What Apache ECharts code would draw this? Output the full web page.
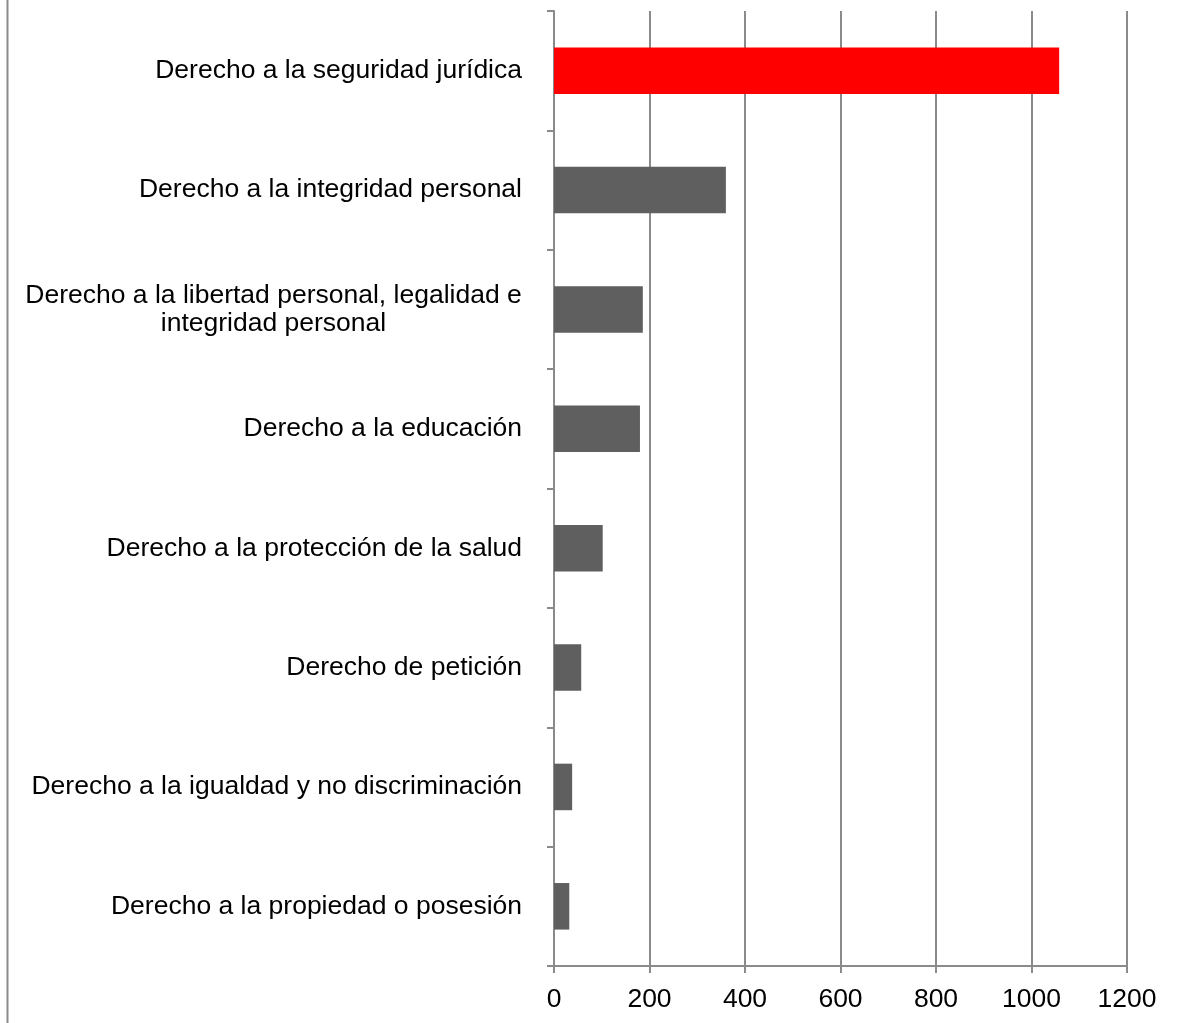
<!DOCTYPE html>
<html>
<head>
<meta charset="utf-8">
<script src="https://cdn.jsdelivr.net/npm/echarts@6/dist/echarts.min.js"></script>
<style>
  html, body { margin: 0; padding: 0; background: #fff; }
</style>
</head>
<body>
<div id="chart" style="width: 1177px; height: 1023px"></div>
<script>
// categorias, de arriba a abajo
var categorias = [
  "Derecho a la seguridad jurídica",
  "Derecho a la integridad personal",
  "Derecho a la libertad personal, legalidad e\nintegridad personal",
  "Derecho a la educación",
  "Derecho a la protección de la salud",
  "Derecho de petición",
  "Derecho a la igualdad y no discriminación",
  "Derecho a la propiedad o posesión"
];
var valores = [1058, 360, 186, 180, 102, 57, 38, 32];
var destacado = 0; // la barra roja

var myChart = echarts.init(document.getElementById("chart"));
var gris = "#8a8a8a";

var option = {
  animation: false,
  textStyle: { fontFamily: "Liberation Sans, Arial, sans-serif" },
  grid: { left: 554, right: 50, top: 11, bottom: 57 },
  xAxis: {
    type: "value",
    min: 0,
    max: 1200,
    interval: 200,
    axisLine: { show: true, lineStyle: { color: gris, width: 2 } },
    axisTick: { show: true, length: 7, lineStyle: { color: gris, width: 2 } },
    splitLine: { show: true, lineStyle: { color: gris, width: 2 } },
    axisLabel: {
      color: "#000",
      fontSize: 26.5,
      margin: 20,
      formatter: function (v) { return String(v); }
    }
  },
  yAxis: {
    type: "category",
    inverse: true,
    data: categorias,
    axisLine: { show: true, lineStyle: { color: gris, width: 2 } },
    axisTick: { show: true, length: 7, lineStyle: { color: gris, width: 2 } },
    axisLabel: {
      color: "#000",
      fontSize: 26.5,
      margin: 32,
      lineHeight: 28,
      formatter: function (v) {
        if (v.indexOf("\n") >= 0) {
          return v.split("\n").map(function (s) { return "{c|" + s + "}"; }).join("\n");
        }
        return v;
      },
      rich: {
        c: { width: 497, align: "center", fontSize: 26.5, lineHeight: 28, color: "#000" }
      }
    }
  },
  graphic: [
    {
      type: "line",
      shape: { x1: 7.5, y1: 0, x2: 7.5, y2: 1023 },
      style: { stroke: gris, lineWidth: 2 }
    }
  ],
  series: [
    {
      type: "bar",
      barWidth: "39%",
      data: valores.map(function (v, i) {
        return {
          value: v,
          itemStyle: { color: i === destacado ? "#ff0000" : "#5f5f5f" }
        };
      })
    }
  ]
};
myChart.setOption(option);
</script>
</body>
</html>
